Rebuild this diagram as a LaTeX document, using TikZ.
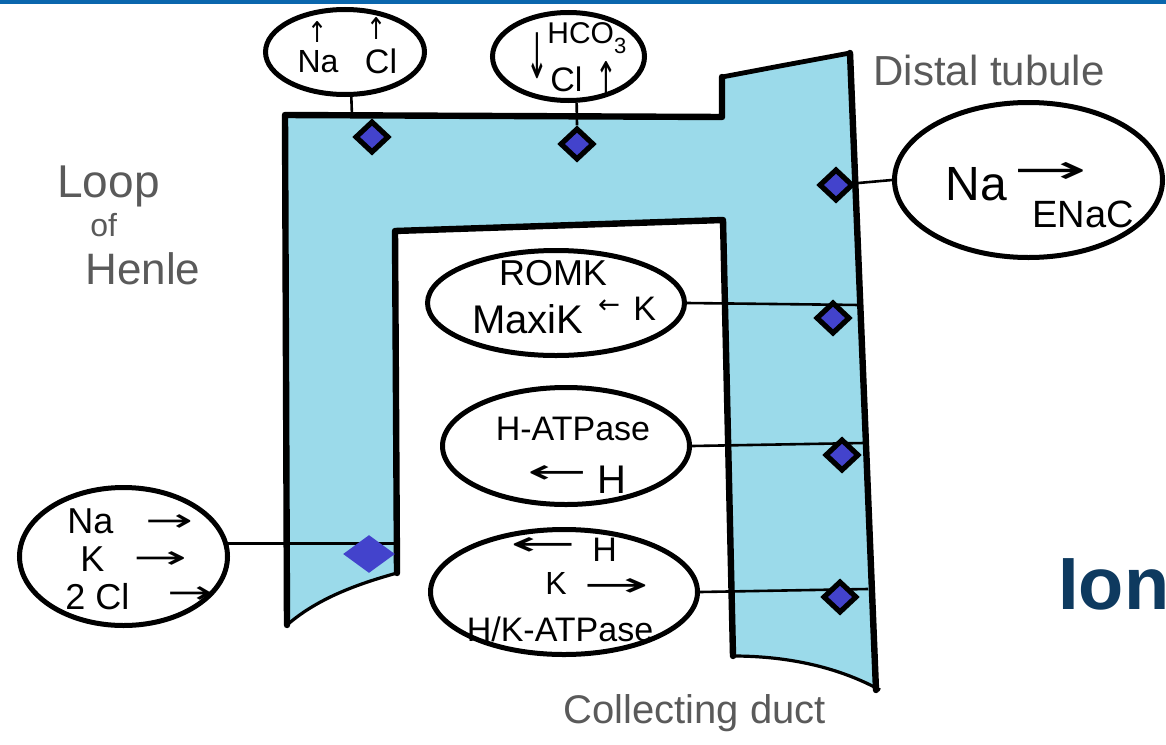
\documentclass[tikz,border=0pt]{standalone}
\usepackage{fontspec}
\usepackage{graphicx}
\setmainfont{Liberation Sans}
\newfontfamily\arw{DejaVu Sans}
\usetikzlibrary{shapes.geometric}
\definecolor{tube}{HTML}{9BDAEA}
\definecolor{pump}{HTML}{4343CC}
\definecolor{topbar}{HTML}{0A66AD}
\definecolor{navy}{HTML}{0E3A5F}
\definecolor{handgray}{HTML}{5A5A5A}
\newcommand{\fsz}[1]{\fontsize{#1}{#1}\selectfont}
\newcommand{\harr}[2]{\resizebox{#1}{\height}{\arw #2}}
\newcommand{\varr}[2]{\resizebox*{\width}{#1}{\arw #2}}
\begin{document}
\begin{tikzpicture}[x=0.5pt,y=-0.5pt,
  ell/.style={draw, line width=2.5pt, ellipse, inner sep=0pt, fill=white},
  pumpd/.style={diamond, draw, line width=2.6pt, fill=pump, inner sep=0pt, minimum width=17pt, minimum height=16pt},
  pumpflat/.style={diamond, fill=pump, inner sep=0pt, minimum width=26pt, minimum height=19pt},
  wire/.style={line width=1.3pt},
  wall/.style={line width=3.2pt, line join=round, line cap=round},
  txt/.style={inner sep=0pt, anchor=base},
  txtw/.style={inner sep=0pt, anchor=base west},
  arr/.style={inner sep=0pt, anchor=center},
  hand/.style={inner sep=0pt, anchor=base west, text=handgray}
]
\useasboundingbox (0,0) rectangle (1166,744);
\clip (0,0) rectangle (1166,744);
\fill[topbar] (0,0) rectangle (1166,4);

% tube
\fill[tube] (285,625) -- (285,115) -- (722,117) -- (722,77) -- (850,53) -- (876,688)
  .. controls (840,668) and (790,656) .. (733,656) -- (723,220) -- (395,231) -- (397,573)
  .. controls (365,582) and (320,596) .. (285,625) -- cycle;
\draw[wall] (287,625) -- (285,115) -- (722,117) -- (722,77);
\draw[line width=2.4pt, line join=round] (722,77) -- (780,66) -- (850,53);
\draw[wall] (850,53) -- (876,690);
\draw[wall] (397,573) -- (395,231) -- (723,220) -- (733,656);
\draw[line width=1.6pt] (733,656) .. controls (790,656) and (840,668) .. (880,690);
\draw[line width=1.6pt] (397,573) .. controls (365,582) and (320,596) .. (287,625);

% wall anchor points
\coordinate (wt1) at (352,116);
\coordinate (w4) at (860,305);
\coordinate (w5) at (864,443);
\coordinate (w6) at (868,589);
\coordinate (w7) at (397,545);

% ellipses
\node[ell, minimum width=79.5pt, minimum height=42.5pt] (nacl) at (345,52) {};
\node[ell, minimum width=76pt, minimum height=44pt] (hco) at (568.5,56.5) {};
\node[ell, minimum width=134pt, minimum height=77.5pt] (enac) at (1028.5,180) {};
\node[ell, minimum width=104pt, minimum height=69pt] (nkcc) at (123.5,556.5) {};
\node[ell, minimum width=128.5pt, minimum height=52.5pt] (romk) at (556,303) {};
\node[ell, minimum width=123.5pt, minimum height=58.5pt] (hat) at (566,446) {};
\node[ell, minimum width=133.5pt, minimum height=62.5pt] (hk) at (564,592) {};

% diamond positions
\coordinate (d3) at (836,185);
\coordinate (d4) at (833,318);
\coordinate (d5) at (842,455);
\coordinate (d6) at (840,597);
\coordinate (d7) at (369,554);
\node[pumpd] (d1) at (372,137) {};
\node[pumpd] (d2) at (577,144) {};

% wires
\draw[wire] (nacl.-82) -- (wt1);
\draw[wire] (hco.-80) -- (d2.north);
\draw[wire] (enac.west) -- (d3);
\draw[wire] (romk.east) -- (w4);
\draw[wire] (hat.east) -- (w5);
\draw[wire] (hk.east) -- (w6);
\draw[wire] (nkcc.7) -- (nkcc.7 -| w7);

% pumps on the wires
\node[pumpd] (p3) at (d3) {};
\node[pumpd] (p4) at (d4) {};
\node[pumpd] (p5) at (d5) {};
\node[pumpd] (p6) at (d6) {};
\node[pumpflat] (p7) at (d7) {};

% NaCl
\node[txt, font=\fsz{16pt}] (nacl-na) at (318,72) {Na};
\node[txt, font=\fsz{17pt}] (nacl-cl) at (381,73) {Cl};
\node[arr, font=\fsz{12pt}] (nacl-a1) at (318,32) {\varr{10.5pt}{↑}};
\node[arr, font=\fsz{12pt}] (nacl-a2) at (377,28) {\varr{11pt}{↑}};

% HCO3 / Cl
\node[txtw, font=\fsz{15pt}] (hco-t) at (547,43) {HCO\raisebox{-5pt}{\fsz{11pt}3}};
\node[txtw, font=\fsz{17pt}] (hco-cl) at (550,91) {Cl};
\node[arr, font=\fsz{13pt}] (hco-a1) at (537,56) {\varr{23pt}{↓}};
\node[arr, font=\fsz{13pt}] (hco-a2) at (606,78) {\varr{17pt}{↑}};

% ENaC
\node[txtw, font=\fsz{24pt}] (enac-na) at (945,200) {Na};
\node[arr, font=\fsz{20pt}] (enac-ar) at (1050,173) {\harr{37pt}{→}};
\node[txtw, font=\fsz{19pt}] (enac-t) at (1032,227) {ENaC};

% Na K 2Cl
\node[txtw, font=\fsz{18pt}] (nkcc-na) at (67,533) {Na};
\node[arr, font=\fsz{16pt}] (nkcc-a1) at (169,523) {\harr{24pt}{→}};
\node[txtw, font=\fsz{18pt}] (nkcc-k) at (80,571) {K};
\node[arr, font=\fsz{16pt}] (nkcc-a2) at (160,560) {\harr{27pt}{→}};
\node[txtw, font=\fsz{18pt}] (nkcc-cl) at (65,609) {2 Cl};
\node[arr, font=\fsz{16pt}] (nkcc-a3) at (190,595) {\harr{23pt}{→}};

% ROMK / MaxiK
\node[txt, font=\fsz{18pt}] (romk-t) at (553,285) {ROMK};
\node[txtw, font=\fsz{20pt}] (romk-m) at (472,333) {MaxiK};
\node[arr, font=\fsz{13pt}] (romk-a) at (609,307) {\harr{11pt}{←}};
\node[txtw, font=\fsz{17pt}] (romk-k) at (633,320) {K};

% H-ATPase
\node[txt, font=\fsz{17pt}] (hat-t) at (573,440) {H-ATPase};
\node[arr, font=\fsz{17pt}] (hat-a) at (557,475) {\harr{30pt}{←}};
\node[txtw, font=\fsz{20pt}] (hat-h) at (597,493) {H};

% H/K-ATPase
\node[arr, font=\fsz{17pt}] (hk-a1) at (543,547) {\harr{33pt}{←}};
\node[txtw, font=\fsz{17pt}] (hk-h) at (592,561) {H};
\node[txtw, font=\fsz{16pt}] (hk-k) at (545,594) {K};
\node[arr, font=\fsz{17pt}] (hk-a2) at (616,588) {\harr{33pt}{→}};
\node[txt, font=\fsz{17pt}] (hk-t) at (560,641) {H/K-ATPase};

% labels
\node[hand, font=\fsz{21pt}] (lbl-dt) at (873,85) {Distal tubule};
\node[hand, font=\fsz{20pt}] (lbl-cd) at (563,723) {Collecting duct};
\node[hand, font=\fsz{23pt}] (lbl-l1) at (57,197) {Loop};
\node[hand, font=\fsz{16pt}] (lbl-l2) at (90,236) {of};
\node[hand, font=\fsz{22pt}] (lbl-l3) at (85,284) {Henle};

\node[inner sep=0pt, anchor=base west, font=\fsz{37pt}\bfseries, text=navy] (ion) at (1058,609) {Ion};
\end{tikzpicture}
\end{document}
